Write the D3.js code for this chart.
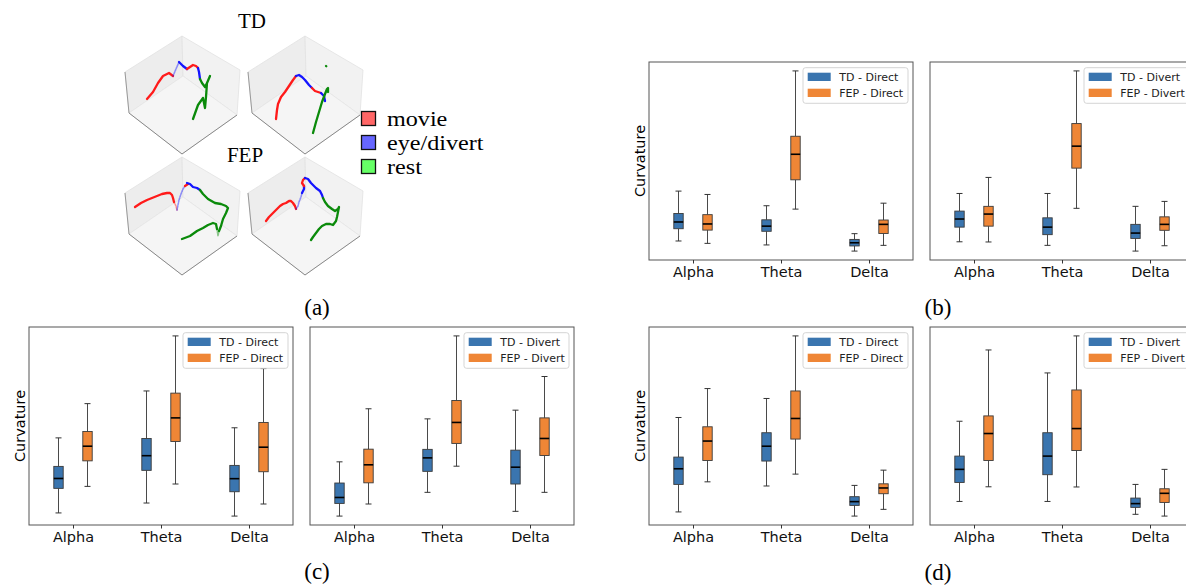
<!DOCTYPE html>
<html><head><meta charset="utf-8">
<script src="https://cdn.jsdelivr.net/npm/d3@7"></script>
<style>body{margin:0;background:#fff;overflow:hidden}</style>
</head><body>
<svg id="chart" width="1186" height="587"></svg>
<script>
// ---------- DATA ----------
const bands = ["Alpha", "Theta", "Delta"];
const groups = ["TD", "FEP"];
// box stats per band: [whiskerLow, q1, median, q3, whiskerHigh] (relative curvature units)
const b_TD_direct  = [[9.6,15.8,19.2,23.5,34.8],[7.6,14.5,17.1,20.3,27.4],[4.5,7.1,8.7,10.4,13.3]];
const b_FEP_direct = [[8.4,15.1,18.2,22.9,33.1],[25.7,40.5,53.4,62.5,95.5],[7.4,13.4,18.0,20.2,28.7]];
const b_TD_divert  = [[9.2,16.6,20.7,24.7,33.6],[7.4,12.8,16.6,21.3,33.6],[4.5,10.9,13.6,18.0,27.1]];
const b_FEP_divert = [[9.1,17.1,23.2,27.1,41.7],[26.1,46.4,57.5,68.9,95.5],[7.2,15.0,18.0,21.8,29.6]];
const c_TD_direct  = [[6.1,18.5,23.5,29.6,44.0],[11.1,27.6,35.0,43.7,67.7],[4.5,16.8,23.4,30.1,49.1]];
const c_FEP_direct = [[19.5,32.4,39.8,47.2,61.3],[20.7,42.2,54.1,66.6,95.5],[10.6,26.9,39.3,51.8,79.0]];
const c_TD_divert  = [[4.5,10.9,13.9,21.2,31.9],[16.5,27.1,33.9,38.2,53.6],[6.9,20.7,29.2,37.8,58.0]];
const c_FEP_divert = [[10.6,21.3,30.4,38.3,58.7],[29.7,41.2,51.8,62.9,95.5],[16.5,35.1,43.7,54.1,75.0]];
const d_TD_direct  = [[6.6,20.5,28.4,34.3,54.3],[19.7,32.3,39.8,46.6,63.9],[4.5,9.9,11.8,14.3,20.0]];
const d_FEP_direct = [[21.8,32.6,42.4,49.6,68.9],[25.7,43.4,53.8,67.7,95.5],[7.9,15.8,18.7,20.8,27.7]];
const d_TD_divert  = [[11.9,21.5,28.1,34.8,52.4],[11.9,25.4,34.8,46.6,76.8],[5.4,8.9,10.8,13.6,20.5]];
const d_FEP_divert = [[19.3,32.6,46.2,55.1,88.4],[19.2,37.6,48.7,68.2,95.5],[4.5,11.4,16.0,18.3,28.1]];

const phases = ["movie", "eye/divert", "rest"];
const cubeTitles = ["TD", "FEP"];
// trajectory segments in cube-local units (0..125)
const trajTD1 = [
  {phase:"movie", pts:[[27,69],[33,62],[38,53],[43,46],[49,43],[53,46]]},
  {phase:"eye/divert", sparse:true, pts:[[53,46],[56,39],[59,32]]},
  {phase:"eye/divert", pts:[[59,32],[63,36],[67,39]]},
  {phase:"movie", pts:[[67,39],[70,37],[73,35],[76,36],[78,38]]},
  {phase:"eye/divert", pts:[[78,38],[79,42],[80,49]]},
  {phase:"rest", pts:[[80,49],[82,53],[85,57],[87,53],[90,46],[87,53],[86,67],[85,78],[83,68],[78,75],[73,89]]}
];
const trajTD2 = [
  {phase:"movie", pts:[[33,89],[34,80],[35,74],[38,67],[42,62],[46,56],[50,50],[53,46]]},
  {phase:"eye/divert", pts:[[53,46],[56,45],[59,47],[62,50],[66,55],[69,58]]},
  {phase:"movie", pts:[[69,58],[72,61],[75,62],[78,63]]},
  {phase:"eye/divert", pts:[[78,63],[81,66],[82,71]]},
  {phase:"rest", pts:[[70,103],[73,92],[76,82],[79,72],[82,64],[84,59],[85,58],[85,62]]},
  {phase:"rest", pts:[[83,36],[83.3,36.3]]}
];
const trajFEP1 = [
  {phase:"movie", pts:[[15,56],[21,52],[27,49],[32,47],[37,45],[42,43],[47,42],[50,42],[52,44],[53,47],[54,51]]},
  {phase:"movie", sparse:true, pts:[[54,51],[56,55],[57,59]]},
  {phase:"eye/divert", sparse:true, pts:[[57,59],[58,54],[59,49],[61,43],[63,38],[65,35]]},
  {phase:"movie", pts:[[65,35],[68,33]]},
  {phase:"eye/divert", pts:[[67,32],[70,33],[73,36],[77,37],[80,39]]},
  {phase:"rest", pts:[[80,39],[83,43],[88,48],[95,52],[101,53],[106,55],[108,57],[106,62],[103,68],[101,75],[99,80]]},
  {phase:"rest", sparse:true, pts:[[99,80],[98,85],[97,78]]},
  {phase:"rest", pts:[[97,78],[96,73],[93,72],[88,74],[83,77],[77,80],[70,85],[62,88]]}
];
const trajFEP2 = [
  {phase:"movie", pts:[[23,70],[26,66],[30,62],[34,58],[37,55],[40,53],[43,52],[46,50],[48,50],[50,52],[52,55],[53,58]]},
  {phase:"eye/divert", sparse:true, pts:[[53,58],[55,55],[56,51],[58,46],[59,42]]},
  {phase:"eye/divert", pts:[[59,42],[61,38],[61,35]]},
  {phase:"movie", pts:[[61,35],[59,32],[60,29],[62,27]]},
  {phase:"eye/divert", pts:[[62,27],[65,28],[68,32],[73,37],[77,40],[79,44],[80,47]]},
  {phase:"rest", pts:[[80,47],[82,51],[85,55],[89,58],[92,60],[95,58],[96,56],[95,61],[94,66],[93,70],[90,74],[87,73],[83,73],[79,75],[76,78],[73,82],[70,86],[68,89]]}
];
const panelLabels = ["(a)", "(b)", "(c)", "(d)"];

// ---------- DRAW ----------
const svg = d3.select("#chart");
const SANS = "DejaVu Sans, sans-serif";
const SERIF = "Liberation Serif, Times New Roman, serif";
const boxColor = d3.scaleOrdinal().domain(groups).range(["#3a75af", "#ef8636"]);
const lineColor = d3.scaleOrdinal().domain(phases).range(["#ff1a1a", "#1414ff", "#0a8a0a"]);
const swatchColor = d3.scaleOrdinal().domain(phases).range(["#ff6666", "#6666ff", "#66ff66"]);

// ---- 3D cubes (panel a) ----
function drawCube(ox, oy, segs) {
  const sx = d3.scaleLinear().domain([0,125]).range([ox, ox+125]);
  const sy = d3.scaleLinear().domain([0,125]).range([oy, oy+125]);
  const g = svg.append("g");
  const T=[62,6], UL=[5,42], LL=[9,83], B=[62,124], LR=[117,85], UR=[120,40], C=[63,46];
  const P = pts => pts.map(p => [sx(p[0]), sy(p[1])]);
  const line = d3.line();
  g.append("path").attr("d", line(P([T,UL,LL,C]))+"Z").attr("fill","#ededed").attr("stroke","#e2e2e2").attr("stroke-width",0.8);
  g.append("path").attr("d", line(P([T,UR,LR,C]))+"Z").attr("fill","#f2f2f2").attr("stroke","#e2e2e2").attr("stroke-width",0.8);
  g.append("path").attr("d", line(P([C,LL,B,LR]))+"Z").attr("fill","#f5f5f5").attr("stroke","#e6e6e6").attr("stroke-width",0.8);
  g.append("path").attr("d", line(P([UL,LL]))).attr("fill","none").attr("stroke","#999").attr("stroke-width",1);
  g.append("path").attr("d", line(P([LL,B,LR]))).attr("fill","none").attr("stroke","#888").attr("stroke-width",1);
  segs.forEach(s => {
    g.append("path").attr("d", line(P(s.pts)))
      .attr("fill","none")
      .attr("stroke", lineColor(s.phase))
      .attr("stroke-opacity", s.sparse ? 0.45 : 1)
      .attr("stroke-width", s.sparse ? 1.6 : 2.3)
      .attr("stroke-dasharray", s.sparse ? "1.5,1.2" : null)
      .attr("stroke-linecap","round").attr("stroke-linejoin","round");
  });
}
drawCube(120, 30, trajTD1);
drawCube(243, 30, trajTD2);
drawCube(120, 151, trajFEP1);
drawCube(243, 151, trajFEP2);

svg.append("text").attr("x",252).attr("y",28).attr("text-anchor","middle")
  .attr("font-family",SERIF).attr("font-size",21).text(cubeTitles[0]);
svg.append("text").attr("x",245).attr("y",162).attr("text-anchor","middle")
  .attr("font-family",SERIF).attr("font-size",21).text(cubeTitles[1]);

// legend (a)
phases.forEach((p,i) => {
  const y0 = 111.5 + i*24;
  svg.append("rect").attr("x",361.5).attr("y",y0).attr("width",14).attr("height",14)
    .attr("fill",swatchColor(p)).attr("stroke","#111").attr("stroke-width",1.3);
  svg.append("text").attr("transform",`translate(387,${y0+14}) scale(1.15,1)`)
    .attr("font-family",SERIF).attr("font-size",21).text(p);
});

// ---- box plot panels ----
const W = 264, H = 198;
const panels = [
  {left:649, top:62,  td:b_TD_direct, fep:b_FEP_direct, cond:"Direct", ylab:true},
  {left:930, top:62,  td:b_TD_divert, fep:b_FEP_divert, cond:"Divert", ylab:false},
  {left:29,  top:327, td:c_TD_direct, fep:c_FEP_direct, cond:"Direct", ylab:true},
  {left:310, top:327, td:c_TD_divert, fep:c_FEP_divert, cond:"Divert", ylab:false},
  {left:649, top:327, td:d_TD_direct, fep:d_FEP_direct, cond:"Direct", ylab:true},
  {left:930, top:327, td:d_TD_divert, fep:d_FEP_divert, cond:"Divert", ylab:false}
];

panels.forEach(pn => {
  const g = svg.append("g");
  const x = d3.scalePoint().domain(bands).range([pn.left, pn.left+W]).padding(0.5);
  const y = d3.scaleLinear().domain([0,100]).range([pn.top+H, pn.top]);
  const off = d3.scalePoint().domain(groups).range([-14.5, 14.5]);
  const bw = 9.4, cw = 6;

  const series = [{grp:"TD", vals:pn.td}, {grp:"FEP", vals:pn.fep}];
  series.forEach(s => {
    s.vals.forEach((v,i) => {
      const cx = x(bands[i]) + off(s.grp);
      const [lo,q1,med,q3,hi] = v;
      const wg = g.append("g");
      wg.append("line").attr("x1",cx).attr("x2",cx).attr("y1",y(q3)).attr("y2",y(hi)).attr("stroke","#4a4a4a").attr("stroke-width",1);
      wg.append("line").attr("x1",cx).attr("x2",cx).attr("y1",y(q1)).attr("y2",y(lo)).attr("stroke","#4a4a4a").attr("stroke-width",1);
      wg.append("line").attr("x1",cx-cw/2).attr("x2",cx+cw/2).attr("y1",y(hi)).attr("y2",y(hi)).attr("stroke","#333").attr("stroke-width",1);
      wg.append("line").attr("x1",cx-cw/2).attr("x2",cx+cw/2).attr("y1",y(lo)).attr("y2",y(lo)).attr("stroke","#333").attr("stroke-width",1);
      wg.append("rect").attr("x",cx-bw/2).attr("y",y(q3)).attr("width",bw).attr("height",y(q1)-y(q3))
        .attr("fill",boxColor(s.grp)).attr("stroke","#3a3a3a").attr("stroke-width",0.9);
      wg.append("line").attr("x1",cx-bw/2).attr("x2",cx+bw/2).attr("y1",y(med)).attr("y2",y(med)).attr("stroke","#000").attr("stroke-width",1.6);
    });
  });

  g.append("rect").attr("x",pn.left).attr("y",pn.top).attr("width",W).attr("height",H)
    .attr("fill","none").attr("stroke","#555").attr("stroke-width",1);

  const ax = g.append("g").attr("transform",`translate(0,${pn.top+H})`)
    .call(d3.axisBottom(x).tickSize(3.5).tickPadding(3.5));
  ax.select(".domain").remove();
  ax.selectAll(".tick line").attr("stroke","#333");
  ax.selectAll(".tick text").attr("font-family",SANS).attr("font-size",14.5).attr("fill","#111");

  if (pn.ylab) {
    g.append("text").attr("transform",`translate(${pn.left-4},${pn.top+H/2}) rotate(-90)`)
      .attr("text-anchor","middle").attr("font-family",SANS).attr("font-size",14.5).text("Curvature");
  }

  const lg = g.append("g").attr("transform",`translate(${pn.left+154},${pn.top+5.7})`);
  lg.append("rect").attr("width",105).attr("height",35.6).attr("rx",2.5)
    .attr("fill","#fff").attr("fill-opacity",0.85).attr("stroke","#d0d0d0").attr("stroke-width",0.9);
  groups.forEach((gr,i) => {
    lg.append("rect").attr("x",4.7).attr("y",5+i*16).attr("width",23).attr("height",8.3).attr("fill",boxColor(gr));
    lg.append("text").attr("x",36.3).attr("y",13.3+i*16).attr("font-family",SANS).attr("font-size",11)
      .attr("fill","#222").text(`${gr} - ${pn.cond}`);
  });
});

[[317,315],[938,315],[317,579],[938,580]].forEach((p,i) => {
  svg.append("text").attr("x",p[0]).attr("y",p[1]).attr("text-anchor","middle")
    .attr("font-family",SERIF).attr("font-size",23).text(panelLabels[i]);
});
</script>
</body></html>
